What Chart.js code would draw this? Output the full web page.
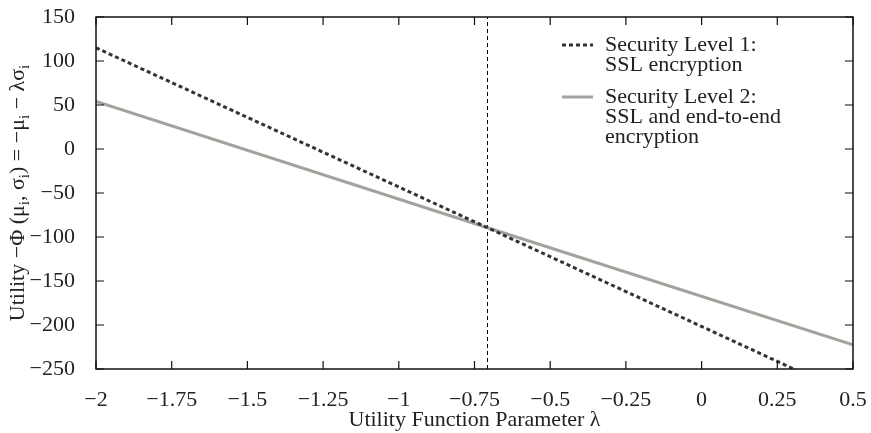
<!DOCTYPE html>
<html>
<head>
<meta charset="utf-8">
<script src="https://cdn.jsdelivr.net/npm/chart.js@4.4.0/dist/chart.umd.min.js"></script>
<style>
  body { margin: 0; background: #fff; }
  #wrap { width: 871px; height: 433px; }
</style>
</head>
<body>
<div id="wrap"><canvas id="myChart" width="871" height="433"></canvas></div>
<script>
// values
const lambdaVals = [-2, -0.707, 0.5];
const level1 = [115, -89.5, -281];
const level2 = [54, -89.5, -222.5];
const cutoff = -0.707;
const yRange = [-250, 150];

const legendLabels = [
  ['Security Level 1:', 'SSL encryption'],
  ['Security Level 2:', 'SSL and end-to-end', 'encryption']
];

// y axis title, pieces flagged true are subscripts
const yTitleParts = [
  ['Utility \u2212\u03a6 (\u03bc', false], ['i', true],
  [', \u03c3', false], ['i', true],
  [') = \u2212\u03bc', false], ['i', true],
  [' \u2212 \u03bb\u03c3', false], ['i', true]
];

const serif = '"Liberation Serif", "DejaVu Serif", serif';
const fontSize = 22;
const minus = v => String(v).replace('-', '\u2212');

const toPts = ys => lambdaVals.map((x, i) => ({ x: x, y: ys[i] }));

const data = {
  datasets: [
    {
      label: legendLabels[0].join(' '),
      data: toPts(level1),
      borderColor: '#333333',
      borderWidth: 3,
      borderDash: [4, 3],
      pointRadius: 0,
      showLine: true
    },
    {
      label: legendLabels[1].join(' '),
      data: toPts(level2),
      borderColor: '#a3a29d',
      borderWidth: 3,
      pointRadius: 0,
      showLine: true
    },
    {
      label: 'cutoff',
      data: yRange.map(y => ({ x: cutoff, y: y })),
      borderColor: '#000',
      borderWidth: 1,
      borderDash: [4, 3],
      pointRadius: 0,
      showLine: true
    }
  ]
};

// frame + inward ticks on all four sides, the y title and the in-plot legend
const framePlugin = {
  id: 'frame',
  afterDraw(chart) {
    const ctx = chart.ctx;
    const a = chart.chartArea;
    const xs = chart.scales.x, ys = chart.scales.y;
    ctx.save();
    ctx.strokeStyle = '#111';
    ctx.lineWidth = 1.5;
    ctx.strokeRect(a.left, a.top, a.right - a.left, a.bottom - a.top);
    ctx.lineWidth = 1.2;
    ctx.beginPath();
    xs.ticks.forEach(t => {
      const px = xs.getPixelForValue(t.value);
      ctx.moveTo(px, a.bottom); ctx.lineTo(px, a.bottom - 8);
      ctx.moveTo(px, a.top); ctx.lineTo(px, a.top + 8);
    });
    ys.ticks.forEach(t => {
      const py = ys.getPixelForValue(t.value);
      ctx.moveTo(a.left, py); ctx.lineTo(a.left + 8, py);
      ctx.moveTo(a.right, py); ctx.lineTo(a.right - 8, py);
    });
    ctx.stroke();

    // y title with real subscripts
    const big = fontSize + 'px ' + serif, small = '15px ' + serif;
    let w = 0;
    yTitleParts.forEach(p => { ctx.font = p[1] ? small : big; w += ctx.measureText(p[0]).width; });
    ctx.save();
    ctx.translate(24, (a.top + a.bottom) / 2);
    ctx.rotate(-Math.PI / 2);
    ctx.fillStyle = '#222';
    ctx.textBaseline = 'alphabetic';
    let cx = -w / 2;
    yTitleParts.forEach(p => {
      ctx.font = p[1] ? small : big;
      ctx.fillText(p[0], cx, p[1] ? 5 : 0);
      cx += ctx.measureText(p[0]).width;
    });
    ctx.restore();

    // legend
    const lx = a.left + 466, tx = a.left + 509;
    let y = a.top + 28;
    ctx.font = big;
    ctx.fillStyle = '#222';
    ctx.textBaseline = 'middle';
    legendLabels.forEach((lines, i) => {
      const ds = chart.data.datasets[i];
      ctx.strokeStyle = ds.borderColor;
      ctx.lineWidth = ds.borderWidth;
      ctx.setLineDash(ds.borderDash || []);
      ctx.beginPath();
      ctx.moveTo(lx, y); ctx.lineTo(lx + 31, y);
      ctx.stroke();
      ctx.setLineDash([]);
      lines.forEach((ln, j) => ctx.fillText(ln, tx, y + j * 20));
      y += lines.length * 20 + 12;
    });
    ctx.restore();
  }
};

const config = {
  type: 'scatter',
  data: data,
  options: {
    responsive: false,
    animation: false,
    layout: { padding: { top: 17, right: 18, left: 0, bottom: 0 } },
    plugins: { legend: { display: false }, tooltip: { enabled: false } },
    scales: {
      x: {
        min: -2, max: 0.5,
        grid: { display: false },
        border: { display: false },
        afterFit: s => { s.height = 64; s.paddingLeft = 0; s.paddingRight = 0; },
        ticks: {
          stepSize: 0.25,
          padding: 10,
          maxRotation: 0,
          autoSkip: false,
          color: '#222',
          font: { family: serif, size: fontSize },
          callback: v => minus(v)
        },
        title: {
          display: true,
          text: 'Utility Function Parameter \u03bb',
          color: '#222',
          font: { family: serif, size: fontSize },
          padding: { top: 0, bottom: 0 }
        }
      },
      y: {
        min: yRange[0], max: yRange[1],
        grid: { display: false },
        border: { display: false },
        afterFit: s => { s.width = 96; s.paddingTop = 0; s.paddingBottom = 0; },
        ticks: {
          stepSize: 50,
          padding: 13,
          color: '#222',
          font: { family: serif, size: fontSize },
          callback: v => minus(v)
        }
      }
    }
  },
  plugins: [framePlugin]
};

const myChart = new Chart(document.getElementById('myChart'), config);
</script>
</body>
</html>
